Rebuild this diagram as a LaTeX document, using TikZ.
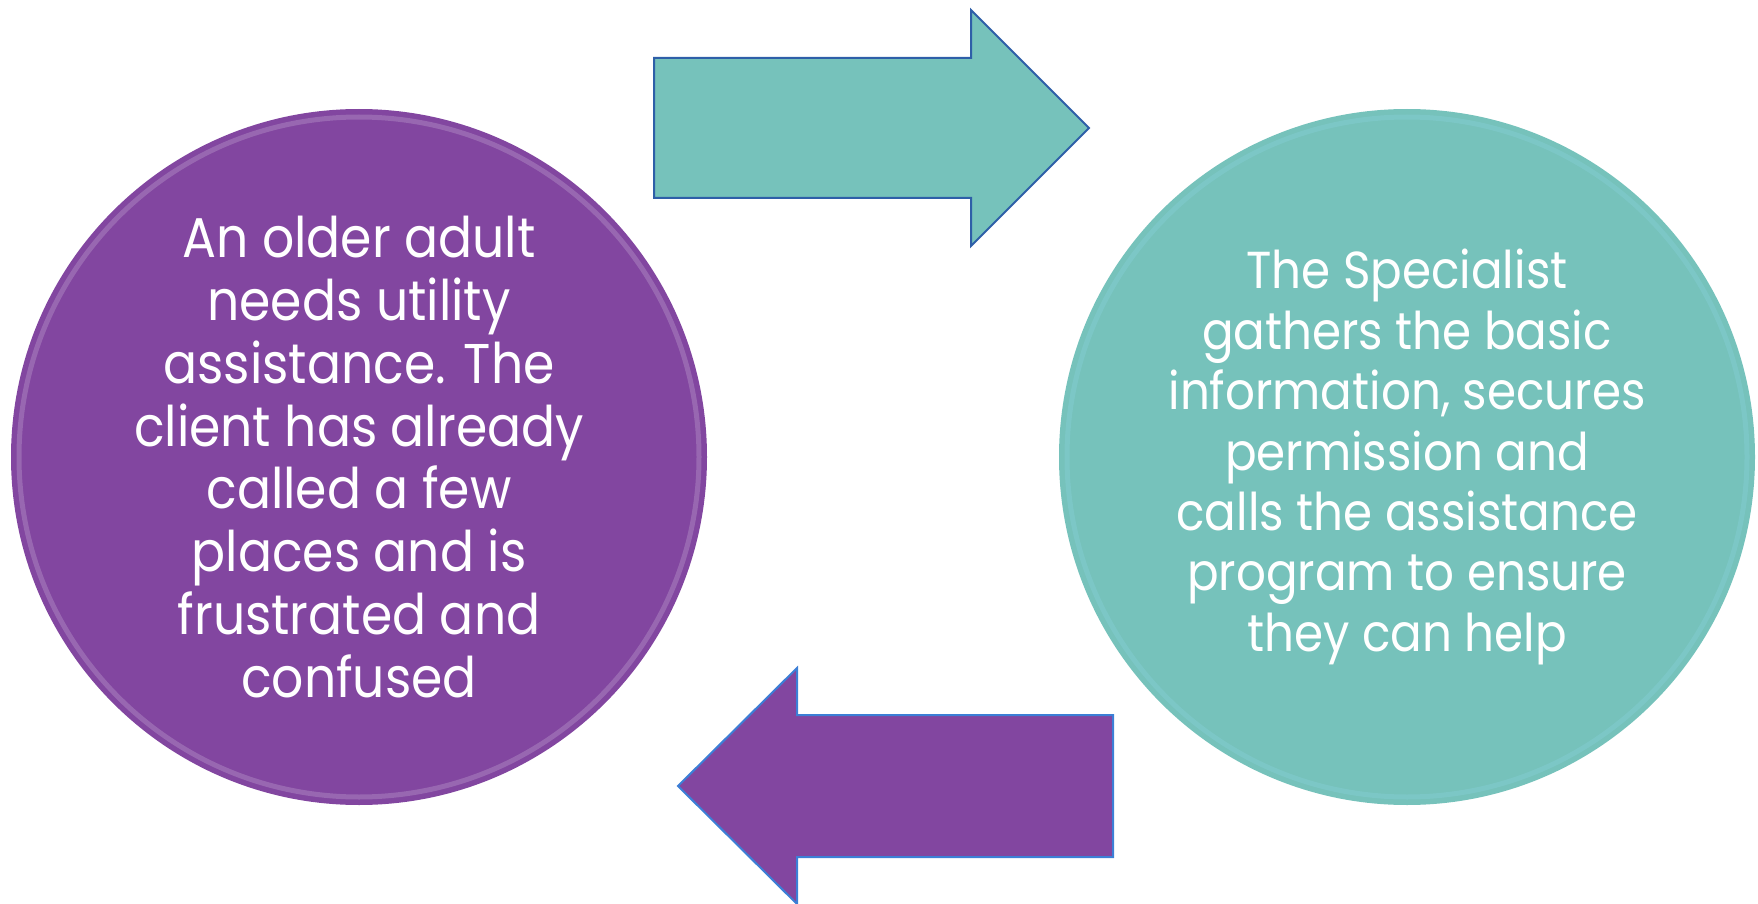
\documentclass[tikz,border=0pt]{standalone}
\usepackage{fontspec}
\setmainfont{Poppins}[FakeStretch=0.9]
\usetikzlibrary{positioning}
\definecolor{plum}{RGB}{130, 70, 160}
\definecolor{lagoon}{RGB}{118, 194, 187}
\definecolor{rimdark}{RGB}{46, 95, 168}
\definecolor{rimlight}{RGB}{60, 127, 214}

\tikzset{
  bubble/.style={circle, minimum size=348pt, inner sep=0pt},
  sheen/.style={line width=2.5pt, opacity=0.18},
  caption/.style={align=center, text=white, inner sep=0pt,
                  font=\fontsize{28}{31.4}\selectfont},
  blockarrow/.style={line width=1pt, line join=miter},
}

\begin{document}
\begin{tikzpicture}[x=0.5pt, y=-0.5pt]
  \useasboundingbox (0,0) rectangle (1758,904);

  % the two steps
  \node [bubble, fill=plum] (client) at (359,457) {};
  \draw [sheen, white] (client.center) circle [radius=340];
  \node [bubble, fill=lagoon] (helper) at (1407,457) {};
  \draw [sheen, cyan!40] (helper.center) circle [radius=340];

  \node [caption] (clienttext) at (client) {An older adult\\needs utility\\assistance. The\\client has already\\called a few\\places and is\\frustrated and\\confused};
  \node [caption, font=\fontsize{26}{30.2}\selectfont] (helpertext) at (helper)
        {The Specialist\\gathers the basic\\information, secures\\permission and\\calls the assistance\\program to ensure\\they can help};

  % arrows between them
  \coordinate (fwd) at (654,128);
  \coordinate (back) at (1113,786);
  \draw [blockarrow, draw=rimdark, fill=lagoon] (fwd)
        ++(0,-70) -- ++(317,0) -- ++(0,-48) -- ++(118,118)
        -- ++(-118,118) -- ++(0,-48) -- ++(-317,0) -- cycle;
  \draw [blockarrow, draw=rimlight, fill=plum] (back)
        ++(0,-71) -- ++(-316,0) -- ++(0,-47) -- ++(-119,118)
        -- ++(119,118) -- ++(0,-47) -- ++(316,0) -- cycle;
\end{tikzpicture}
\end{document}
